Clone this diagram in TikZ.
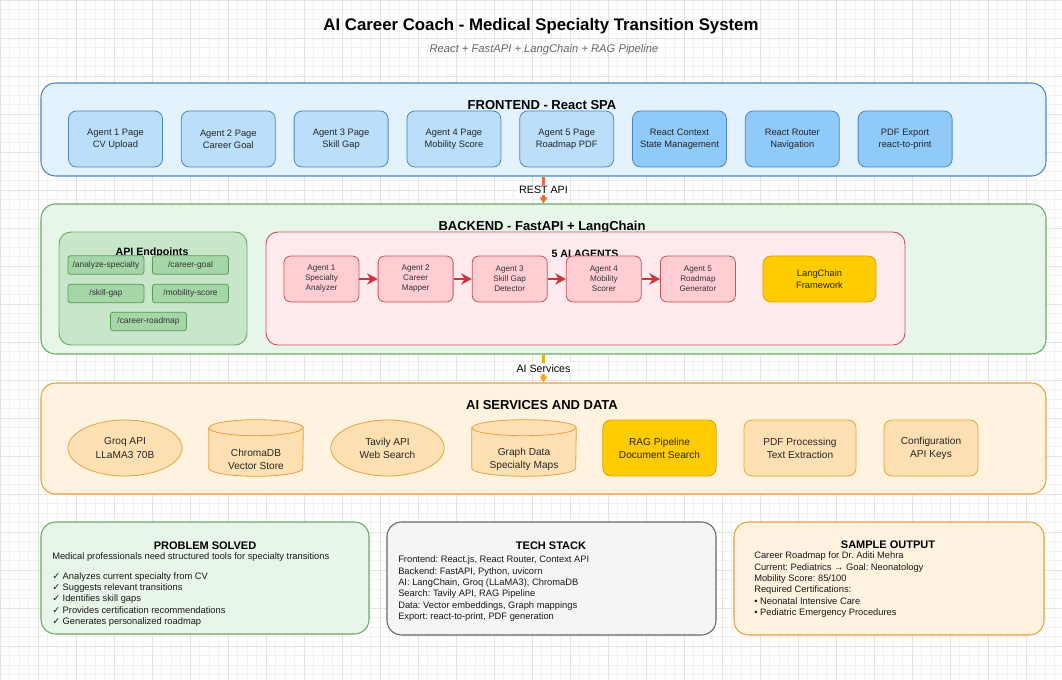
\documentclass[tikz,border=0pt]{standalone}
\usepackage{fontspec}
\setmainfont{Liberation Sans}
\newfontfamily\symfont{DejaVu Sans}
\frenchspacing
\usetikzlibrary{arrows.meta}
\usetikzlibrary{positioning}
\usetikzlibrary{shapes.geometric}
\usetikzlibrary{fit}
\definecolor{feFill}{HTML}{E3F2FD}
\definecolor{feLine}{HTML}{4A86C5}
\definecolor{pageFill}{HTML}{BBDEFB}
\definecolor{toolFill}{HTML}{90CAF9}
\definecolor{beFill}{HTML}{E8F5E9}
\definecolor{beLine}{HTML}{6AAA64}
\definecolor{apiFill}{HTML}{C8E6C9}
\definecolor{epFill}{HTML}{A5D6A7}
\definecolor{epLine}{HTML}{5B9B57}
\definecolor{agFill}{HTML}{FFEBEE}
\definecolor{agLine}{HTML}{C8505A}
\definecolor{agentFill}{HTML}{FFCDD2}
\definecolor{agentArrow}{HTML}{D0343A}
\definecolor{goldFill}{HTML}{FFCC00}
\definecolor{goldLine}{HTML}{D9A400}
\definecolor{aiFill}{HTML}{FFF3E0}
\definecolor{aiLine}{HTML}{E6A03E}
\definecolor{svcFill}{HTML}{FFE0B2}
\definecolor{techFill}{HTML}{F5F5F5}
\definecolor{techLine}{HTML}{666666}
\definecolor{restArrow}{HTML}{EE6A3A}
\definecolor{svcArrow}{HTML}{F5A623}
\newcommand{\checkmk}{{\symfont ✓}}
\newcommand{\drawstore}[2]{%
  \path [storeline] ([yshift=-6pt]#1.north west) -- ([yshift=6pt]#1.south west)
        arc [start angle=180, end angle=360, x radius=#2, y radius=6pt]
        -- ([yshift=-6pt]#1.north east)
        arc [start angle=0, end angle=180, x radius=#2, y radius=6pt] -- cycle;
  \draw [storeline, fill=none] ([yshift=-6pt]#1.north west)
        arc [start angle=180, end angle=360, x radius=#2, y radius=6pt];}
\tikzset{gridminor/.style = {draw=black!5, line width=0.4pt, step=7.125pt},
         gridmajor/.style = {draw=black!11, line width=0.4pt, step=28.5pt},
         layer/.style = {draw, rounded corners=11pt, line width=0.8pt, inner sep=0pt},
         group/.style = {draw, rounded corners=9pt, line width=0.7pt, inner sep=0pt},
         layertitle/.style = {font=\fontsize{9.75}{11}\selectfont\bfseries},
         innertitle/.style = {font=\fontsize{8}{9.6}\selectfont\bfseries},
         page/.style = {draw=feLine, rounded corners=6pt, line width=0.6pt,
                        minimum width=70.5pt, minimum height=42pt, align=center,
                        font=\fontsize{7}{8.8}\selectfont, text=black!85},
         endpoint/.style = {draw=epLine, fill=epFill, rounded corners=2pt, line width=0.6pt,
                            minimum width=57pt, minimum height=14pt, inner sep=0pt,
                            font=\fontsize{6.3}{7.5}\selectfont, text=black!80},
         agent/.style = {draw=agLine, fill=agentFill, rounded corners=5pt, line width=0.6pt,
                         minimum width=56.25pt, minimum height=34.5pt, align=center,
                         font=\fontsize{6.1}{7.5}\selectfont, text=black!80},
         gold/.style = {draw=goldLine, fill=goldFill, rounded corners=6pt, line width=0.6pt,
                        align=center, text=black!85},
         service/.style = {draw=aiLine, fill=svcFill, line width=0.6pt, inner sep=0pt,
                           minimum height=42pt, align=center,
                           font=\fontsize{7.6}{9.8}\selectfont, text=black!85},
         store/.style = {inner sep=0pt, minimum height=42pt},
         storeline/.style = {draw=aiLine, fill=svcFill, line width=0.6pt},
         servicetext/.style = {align=center, font=\fontsize{7.6}{9.8}\selectfont, text=black!85},
         flow/.style = {draw=agentArrow, line width=1.4pt,
                        -{Stealth[length=8pt, width=8.5pt, inset=2.5pt]}},
         link/.style = {line width=1.8pt, -{Triangle[length=4.5pt, width=5.5pt]}},
         linklabel/.style = {fill=white, inner sep=1pt, font=\fontsize{8}{9.6}\selectfont},
         infobox/.style = {draw, rounded corners=11pt, line width=0.8pt, inner sep=0pt},
         infotitle/.style = {font=\fontsize{8.25}{10}\selectfont\bfseries},
         infotext/.style = {anchor=north west, inner sep=0pt, align=left,
                            font=\fontsize{7}{8.5}\selectfont, text=black!90}}

\begin{document}
\begin{tikzpicture}[x=0.75pt, y=-0.75pt]
      \useasboundingbox (0, 0) rectangle (1062, 680);
      \draw [gridminor] (0, 0) grid (1062, 680);
      \draw [gridmajor] (0, 0) grid (1062, 680);

      \node [font=\fontsize{12.6}{15}\selectfont\bfseries] (title) at (541, 26) {AI Career Coach - Medical Specialty Transition System};
      \node [font=\fontsize{8.4}{10}\selectfont\itshape, text=black!60] (subtitle) at (544, 50) {React + FastAPI + LangChain + RAG Pipeline};

      \node [layer, fill=feFill, draw=feLine, fit={(41, 83) (1046, 176)}] (frontend) {};
      \node [layertitle] (frontend-title) at (542, 105) {FRONTEND - React SPA};
      \node [page, fill=pageFill] (page1) at (115.5, 139) {Agent 1 Page\\CV Upload};
      \node [page, fill=pageFill] (page2) at (228.3, 139) {Agent 2 Page\\Career Goal};
      \node [page, fill=pageFill] (page3) at (341.1, 139) {Agent 3 Page\\Skill Gap};
      \node [page, fill=pageFill] (page4) at (453.9, 139) {Agent 4 Page\\Mobility Score};
      \node [page, fill=pageFill] (page5) at (566.7, 139) {Agent 5 Page\\Roadmap PDF};
      \node [page, fill=toolFill] (context) at (679.5, 139) {React Context\\State Management};
      \node [page, fill=toolFill] (router) at (792.3, 139) {React Router\\Navigation};
      \node [page, fill=toolFill] (pdfexport) at (905.1, 139) {PDF Export\\react-to-print};

      \node [layer, fill=beFill, draw=beLine, fit={(41, 204) (1046, 354)}] (backend) {};
      \node [layertitle] (backend-title) at (542, 227.5) {BACKEND - FastAPI + LangChain};
      \node [group, fill=apiFill, draw=beLine, fit={(59, 232) (247, 345)}] (endpoints) {};
      \node [innertitle] (endpoints-title) at (152, 253) {API Endpoints};
      \node [endpoint] (ep-specialty) at (106, 265) {/analyze-specialty};
      \node [endpoint] (ep-goal) at (190.5, 265) {/career-goal};
      \node [endpoint] (ep-skill) at (106, 293.5) {/skill-gap};
      \node [endpoint] (ep-mobility) at (190.5, 293.5) {/mobility-score};
      \node [endpoint] (ep-roadmap) at (148.5, 321.5) {/career-roadmap};

      \node [group, fill=agFill, draw=agLine, fit={(266, 232) (905, 345)}] (agents) {};
      \node [innertitle] (agents-title) at (585, 254) {5 AI AGENTS};
      \node [agent] (agent1) at (321.5, 279) {Agent 1\\Specialty\\Analyzer};
      \node [agent] (agent2) at (415.6, 279) {Agent 2\\Career\\Mapper};
      \node [agent] (agent3) at (509.7, 279) {Agent 3\\Skill Gap\\Detector};
      \node [agent] (agent4) at (603.8, 279) {Agent 4\\Mobility\\Scorer};
      \node [agent] (agent5) at (697.9, 279) {Agent 5\\Roadmap\\Generator};
      \node [gold, minimum width=84.75pt, minimum height=34.5pt, font=\fontsize{7}{9}\selectfont] (langchain) at (819.5, 279) {LangChain\\Framework};
      \draw [flow] (agent1) -- (agent2);
      \draw [flow] (agent2) -- (agent3);
      \draw [flow] (agent3) -- (agent4);
      \draw [flow] (agent4) -- (agent5);

      \node [layer, fill=aiFill, draw=aiLine, fit={(41, 383) (1046, 494)}] (services) {};
      \node [layertitle] (services-title) at (542, 405) {AI SERVICES AND DATA};
      \node [service, ellipse, minimum width=85.5pt] (groq) at (125, 448) {Groq API\\LLaMA3 70B};
      \node [store, minimum width=70.5pt] (chromadb) at (256, 448) {};
      \drawstore{chromadb}{35.25pt}
      \node [servicetext] (chromadb-text) at (256, 459.5) {ChromaDB\\Vector Store};
      \node [service, ellipse, minimum width=85pt] (tavily) at (387.5, 448) {Tavily API\\Web Search};
      \node [store, minimum width=78pt] (graphdata) at (524, 448) {};
      \drawstore{graphdata}{39pt}
      \node [servicetext] (graphdata-text) at (524, 459.5) {Graph Data\\Specialty Maps};
      \node [service, draw=goldLine, fill=goldFill, rounded corners=6pt, minimum width=85pt] (rag) at (659.5, 448) {RAG Pipeline\\Document Search};
      \node [service, rounded corners=6pt, minimum width=84pt] (pdfproc) at (800, 448) {PDF Processing\\Text Extraction};
      \node [service, rounded corners=6pt, minimum width=70.5pt] (config) at (931, 448) {Configuration\\API Keys};

      \draw [link, draw=restArrow, fill=restArrow] (frontend.south) -- (backend.north) node [midway, linklabel] (rest-label) {REST API};
      \draw [link, draw=svcArrow, fill=svcArrow] (backend.south) -- (services.north) node [midway, linklabel] (services-label) {AI Services};

      \node [infobox, fill=beFill, draw=beLine, fit={(41, 522) (369, 634)}] (problem) {};
      \node [infotitle] (problem-title) at (205, 546) {PROBLEM SOLVED};
      \node [infotext] (problem-text) at (52, 552.7) {Medical professionals need structured tools for specialty transitions\\[6pt]
        \checkmk{} Analyzes current specialty from CV\\
        \checkmk{} Suggests relevant transitions\\
        \checkmk{} Identifies skill gaps\\
        \checkmk{} Provides certification recommendations\\
        \checkmk{} Generates personalized roadmap};

      \node [infobox, fill=techFill, draw=techLine, fit={(387, 522) (716, 635)}] (techstack) {};
      \node [infotitle] (techstack-title) at (551, 546) {TECH STACK};
      \node [infotext] (techstack-text) at (398, 555.7) {Frontend: React.js, React Router, Context API\\
        Backend: FastAPI, Python, uvicorn\\
        AI: LangChain, Groq (LLaMA3), ChromaDB\\
        Search: Tavily API, RAG Pipeline\\
        Data: Vector embeddings, Graph mappings\\
        Export: react-to-print, PDF generation};

      \node [infobox, fill=aiFill, draw=aiLine, fit={(734, 522) (1044, 635)}] (sample) {};
      \node [infotitle] (sample-title) at (888, 545) {SAMPLE OUTPUT};
      \node [infotext] (sample-text) at (754, 551.7) {Career Roadmap for Dr. Aditi Mehra\\
        Current: Pediatrics → Goal: Neonatology\\
        Mobility Score: 85/100\\
        Required Certifications:\\
        • Neonatal Intensive Care\\
        • Pediatric Emergency Procedures};
    \end{tikzpicture}
\end{document}
